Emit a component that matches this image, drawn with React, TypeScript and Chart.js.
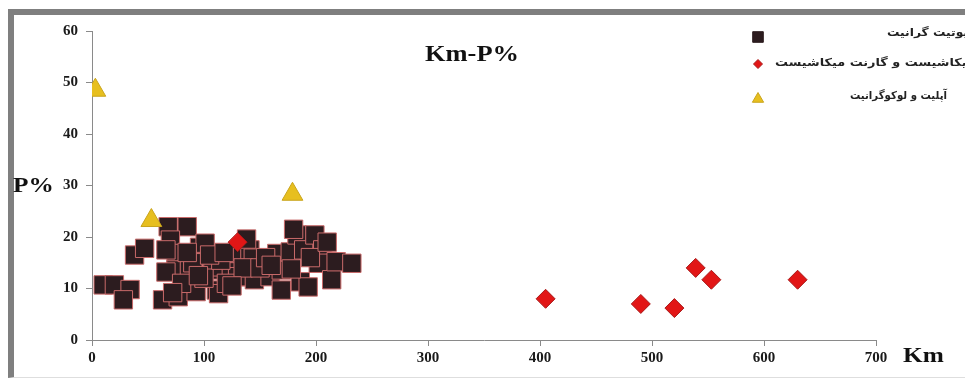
import React, { useEffect, useRef } from "react";
import { Chart, registerables } from "chart.js";

Chart.register(...registerables);

const xTicks = [0, 100, 200, 300, 400, 500, 600, 700];
const yTicks = [0, 10, 20, 30, 40, 50, 60];

const seriesNames = [
  "بیوتیت گرانیت",
  "میکاشیست و گارنت میکاشیست",
  "آپلیت و لوکوگرانیت",
];

// Series 1: granite (squares)
const graniteKm = [
  10, 20, 34, 28, 63, 77, 38, 47, 68, 85, 70, 75, 75, 87, 96, 107, 93, 111, 123, 129,
  141, 141, 101, 108, 113, 130, 144, 145, 159, 165, 169, 169, 177, 183, 180, 189, 186,
  193, 199, 206, 202, 214, 218, 232, 66, 66, 80, 90, 100, 115, 120, 135, 150, 155, 85,
  105, 118, 125, 95, 160, 178, 195, 210, 138, 72,
];
const graniteP = [
  10.7, 10.7, 9.8, 7.8, 7.8, 8.4, 16.5, 17.8, 22, 22, 19.4, 16.8, 13.6, 13.6, 18, 13.6,
  9.4, 9.7, 13.6, 16.8, 17.5, 12.3, 18.8, 14.2, 9, 12.3, 15.9, 11.7, 12.3, 16.8, 9.7,
  13.6, 17.1, 20.4, 21.5, 17.5, 11.3, 10.3, 20.4, 17.5, 14.9, 11.7, 15.2, 14.9, 17.5,
  13.2, 11, 15, 12, 15.5, 11, 14, 14, 16, 17, 16.5, 17, 10.5, 12.5, 14.5, 13.8, 16,
  19, 19.6, 9.2,
];

// Series 2: mica schist (diamonds)
const schistKm = [130, 405, 490, 520, 539, 553, 630];
const schistP = [19, 8, 7, 6.2, 14, 11.7, 11.7];

// Series 3: aplite & leucogranite (triangles)
const apliteKm = [3, 53, 179];
const apliteP = [48.5, 23.2, 28.3];

const SQUARE_FILL = "#2c1c1f";
const SQUARE_BORDER = "#c96a6a";
const DIAMOND_FILL = "#e21616";
const DIAMOND_BORDER = "#a81a1a";
const TRI_FILL = "#e7bf1f";
const TRI_BORDER = "#c9a41c";

const toPoints = (xs: number[], ys: number[]) => xs.map((x, i) => ({ x, y: ys[i] }));

function drawMarker(ctx: CanvasRenderingContext2D, style: string, r: number, x: number, y: number) {
  ctx.beginPath();
  if (style === "rect") {
    const s = r * Math.SQRT1_2;
    ctx.rect(x - s, y - s, 2 * s, 2 * s);
  } else if (style === "rectRot") {
    ctx.moveTo(x, y - r);
    ctx.lineTo(x + r, y);
    ctx.lineTo(x, y + r);
    ctx.lineTo(x - r, y);
    ctx.closePath();
  } else {
    ctx.moveTo(x, y - r);
    ctx.lineTo(x + r * Math.cos(Math.PI / 6), y + r / 2);
    ctx.lineTo(x - r * Math.cos(Math.PI / 6), y + r / 2);
    ctx.closePath();
  }
  ctx.fill();
  ctx.stroke();
}

const decorPlugin = {
  id: "decor",
  afterDraw(chart: any) {
    const ctx = chart.ctx as CanvasRenderingContext2D;
    const stretchText = (
      text: string,
      x: number,
      y: number,
      font: string,
      sx: number,
      align: CanvasTextAlign
    ) => {
      ctx.save();
      ctx.font = font;
      ctx.fillStyle = "#111";
      ctx.textAlign = align;
      ctx.textBaseline = "middle";
      ctx.translate(x, y);
      ctx.scale(sx, 1);
      ctx.fillText(text, 0, 0);
      ctx.restore();
    };
    stretchText("Km-P%", 472, 55, "bold 23px 'Liberation Serif'", 1.15, "center");
    stretchText("P%", 13, 186, "bold 22px 'Liberation Serif'", 1.15, "left");
    stretchText("Km", 903, 356, "bold 22px 'Liberation Serif'", 1.15, "left");

    // legend markers
    const mx = 758;
    ctx.save();
    ctx.lineWidth = 1;
    ctx.fillStyle = SQUARE_FILL;
    ctx.strokeStyle = SQUARE_FILL;
    drawMarker(ctx, "rect", 7.5, mx, 37);
    ctx.fillStyle = DIAMOND_FILL;
    ctx.strokeStyle = DIAMOND_BORDER;
    drawMarker(ctx, "rectRot", 4.5, mx, 64);
    ctx.fillStyle = TRI_FILL;
    ctx.strokeStyle = TRI_BORDER;
    drawMarker(ctx, "triangle", 6.5, mx, 99);
    ctx.restore();

    // legend text (left edge, target width)
    const textPos = [
      { x: 887, y: 33, w: 86 },
      { x: 775, y: 63, w: 200 },
      { x: 850, y: 96, w: 97 },
    ];
    textPos.forEach((p, i) => {
      ctx.save();
      ctx.font = "bold 11px 'DejaVu Sans'";
      ctx.fillStyle = "#222";
      ctx.direction = "rtl";
      ctx.textAlign = "left";
      ctx.textBaseline = "middle";
      const m = ctx.measureText(seriesNames[i]).width;
      ctx.translate(p.x, p.y);
      ctx.scale(p.w / m, 1);
      ctx.fillText(seriesNames[i], 0, 0);
      ctx.restore();
    });
  },
};

export default function App() {
  const ref = useRef<HTMLCanvasElement | null>(null);
  useEffect(() => {
    if (!ref.current) return;
    const chart = new Chart(ref.current, {
      type: "scatter",
      data: {
        datasets: [
          {
            label: seriesNames[0],
            data: toPoints(graniteKm, graniteP),
            pointStyle: "rect",
            pointRadius: 13,
            backgroundColor: SQUARE_FILL,
            borderColor: SQUARE_BORDER,
            borderWidth: 1,
            order: 3,
          },
          {
            label: seriesNames[1],
            data: toPoints(schistKm, schistP),
            pointStyle: "rectRot",
            pointRadius: 9.5,
            backgroundColor: DIAMOND_FILL,
            borderColor: DIAMOND_BORDER,
            borderWidth: 1,
            order: 2,
          },
          {
            label: seriesNames[2],
            data: toPoints(apliteKm, apliteP),
            pointStyle: "triangle",
            pointRadius: 12,
            backgroundColor: TRI_FILL,
            borderColor: TRI_BORDER,
            borderWidth: 1,
            order: 1,
          },
        ],
      },
      options: {
        responsive: false,
        animation: false,
        events: [],
        layout: { padding: { left: 0, right: 89, top: 31, bottom: 0 } },
        plugins: {
          legend: { display: false },
          tooltip: { enabled: false },
          title: { display: false },
        },
        scales: {
          x: {
            type: "linear",
            min: 0,
            max: 700,
            afterBuildTicks: (s: any) => {
              s.ticks = xTicks.map((v) => ({ value: v }));
            },
            afterFit: (s: any) => {
              s.height = 40;
            },
            ticks: {
              padding: 3,
              color: "#1a1a1a",
              font: { family: "'Liberation Serif'", size: 15, weight: "bold" },
              maxRotation: 0,
            },
            grid: { drawOnChartArea: false, drawTicks: true, tickLength: 6, color: "#8a8a8a" },
            border: { display: true, color: "#8a8a8a", width: 1 },
          },
          y: {
            type: "linear",
            min: 0,
            max: 60,
            afterBuildTicks: (s: any) => {
              s.ticks = yTicks.map((v) => ({ value: v }));
            },
            afterFit: (s: any) => {
              s.width = 92;
            },
            ticks: {
              padding: 8,
              color: "#1a1a1a",
              font: { family: "'Liberation Serif'", size: 15, weight: "bold" },
            },
            grid: { drawOnChartArea: false, drawTicks: true, tickLength: 6, color: "#8a8a8a" },
            border: { display: true, color: "#8a8a8a", width: 1 },
          },
        },
      },
      plugins: [decorPlugin],
    } as any);
    return () => chart.destroy();
  }, []);

  return (
    <div style={{ position: "absolute", left: 0, top: 0, width: 965, height: 380, background: "#fff", overflow: "hidden" }}>
      <div
        style={{
          position: "absolute",
          left: 8,
          top: 9,
          width: 965 - 8,
          height: 380 - 9 - 2,
          borderTop: "6px solid #7f7f7f",
          borderLeft: "6px solid #7f7f7f",
          borderBottom: "1px solid #dedede",
          boxSizing: "border-box",
        }}
      />
      <canvas ref={ref} width={965} height={380} style={{ position: "absolute", left: 0, top: 0, width: 965, height: 380 }} />
    </div>
  );
}
